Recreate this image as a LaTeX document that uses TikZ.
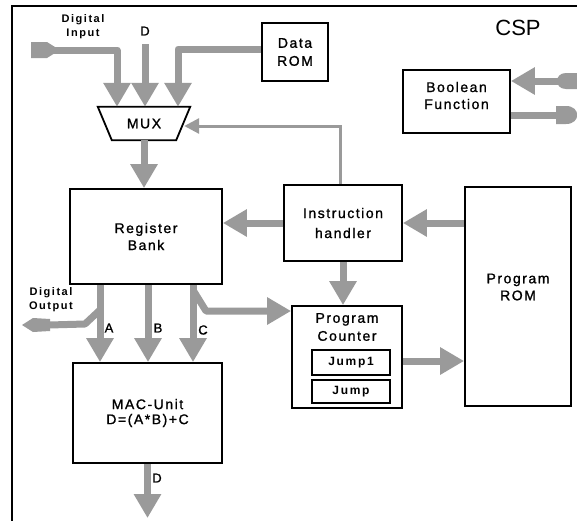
\documentclass[tikz,border=0pt]{standalone}
\usepackage{fontspec}
\setmainfont{Liberation Sans}
\newfontfamily\spaced[LetterSpace=11,FakeBold=1.2]{Liberation Sans}
\newfontfamily\spacedb[LetterSpace=14]{Liberation Sans}
\newfontfamily\heavy[FakeBold=1.2]{Liberation Sans}
\usetikzlibrary{arrows.meta}
\definecolor{ag}{HTML}{9A9A9A}
\begin{document}
\begin{tikzpicture}[x=1pt,y=-1pt,
  box/.style={draw=black,line width=1.8pt,fill=white,inner sep=0pt},
  txt/.style={align=center,inner sep=0pt,font=\spaced\fontsize{14}{17}\selectfont},
  jtxt/.style={draw=black,line width=1.8pt,fill=white,inner sep=0pt,font=\spacedb\bfseries\fontsize{12}{13}\selectfont},
  big/.style={draw=ag,line width=7pt,line join=round,-{Triangle[width=26pt,length=24pt]}},
  thinarr/.style={draw=ag,line width=3pt,-{Triangle[width=15pt,length=15pt]}},
  gl/.style={draw=ag,line width=7pt,line join=round},
  lbl/.style={font=\heavy\fontsize{13}{14}\selectfont,inner sep=0pt},
  small/.style={font=\spacedb\bfseries\fontsize{11}{14}\selectfont,align=center,inner sep=0pt}
]
\useasboundingbox (0,0) rectangle (577,520);
\clip (0,0) rectangle (577,520);
% frame
\draw[line width=2.5pt] (12,540) -- (12,6) -- (600,6);

% boxes
\node[box,minimum width=66pt,minimum height=58pt,txt,font=\spaced\fontsize{14}{18}\selectfont] (drom) at (295,52) {Data\\ROM};
\node[minimum width=92pt,minimum height=33pt,inner sep=0pt] (mux) at (144,123.5) {};
\draw[line width=1.8pt,fill=white] (mux.north west) -- (mux.north east) -- ([xshift=-14pt]mux.south east) -- ([xshift=14pt]mux.south west) -- cycle;
\node[txt] at (mux.center) {MUX};
\node[box,minimum width=152pt,minimum height=95pt,txt] (rb) at (146,236.5) {Register\\Bank};
\node[box,minimum width=118pt,minimum height=76pt,txt,font=\spaced\fontsize{14}{20}\selectfont] (ih) at (343,223) {Instruction\\handler};
\node[box,minimum width=106pt,minimum height=219pt] (prom) at (518,296.5) {};
\node[txt] at (518,287) {Program\\ROM};
\node[box,minimum width=110pt,minimum height=102pt] (pc) at (347,357) {};
\node[txt,font=\spaced\fontsize{14}{18}\selectfont] at (347,327) {Program\\Counter};
\node[jtxt,minimum width=78pt,minimum height=25pt] (j1) at (351,362.5) {Jump1};
\node[jtxt,minimum width=78pt,minimum height=23pt] (j0) at (351,391.5) {Jump};
\node[box,minimum width=149pt,minimum height=100pt,txt,font=\spaced\fontsize{14}{15}\selectfont] (mac) at (147.5,413) {MAC-Unit\\D=(A*B)+C};
\node[box,minimum width=107pt,minimum height=63pt] (bf) at (456.5,101.5) {};
\node[txt] at (456.5,95.5) {Boolean\\Function};

% connector shapes
\fill[ag] (31,42) -- (47,42) -- (55,47) -- (55,53) -- (47,58) -- (31,58) -- cycle;
\coordinate (din) at (54,50);
\fill[ag] (22,325) -- (33,318) -- (50,319) -- (50,331) -- (33,332) -- cycle;
\coordinate (dout) at (49,325);
\fill[ag] (585,73) -- (566,73) .. controls (554,73) and (554,89) .. (566,89) -- (585,89) -- cycle;
\coordinate (bin) at (560,81);
\fill[ag] (556,106) -- (566,106) .. controls (581,106) and (581,124) .. (566,124) -- (556,124) -- cycle;
\coordinate (bout) at (558,115);
\coordinate (dtop) at (145,44);
\coordinate (aout) at (100,310);
\coordinate (cbr) at (193,290);
\coordinate (macout) at (147.5,518);

% arrows into MUX
\draw[big] (din) -| ([xshift=-27pt]mux.north);
\draw[big] (dtop) -- (dtop |- mux.north);
\draw[big] ([yshift=3pt]drom.west) -| ([xshift=34pt]mux.north);
\draw[thinarr] ([xshift=-3pt]ih.north) |- ([xshift=-6pt,yshift=-2.5pt]mux.east);
\draw[big] (mux.south) -- (mux.south |- rb.north);

% other arrows
\draw[big] (ih.west) -- (ih.west -| rb.east);
\draw[big] (ih.east -| prom.west) -- (ih.east);
\draw[big] (ih.south) -- (ih.south |- pc.north);
\draw[big] ([yshift=-4pt]pc.east) -- ([yshift=-4pt]pc.east -| prom.west);

% register outputs
\draw[big] ([xshift=-46pt]rb.south) -- ([xshift=-46pt]rb.south |- mac.north);
\draw[big] ([xshift=2pt]rb.south) -- ([xshift=2pt]rb.south |- mac.north);
\draw[big] ([xshift=47pt]rb.south) -- ([xshift=47pt]rb.south |- mac.north);
\draw[gl] (aout) -- (85,324) -- (dout);
\draw[big] (cbr) -- (206,311) -- (pc.west |- 0,311);
\draw[big] (mac.south) -- (macout);

% boolean function
\draw[big] (bin) -- (bin -| bf.east);
\draw[gl] (bout -| bf.east) -- (bout);

% labels
\node[small] at (83,27) {Digital\\Input};
\node[lbl] at (145,31) {D};
\node[small] at (51,300) {Digital\\Output};
\node[lbl] at (109,328) {A};
\node[lbl] at (158,328) {B};
\node[lbl] at (203,330) {C};
\node[lbl] at (157,478) {D};
\node[font=\fontsize{22}{24}\selectfont,inner sep=0pt] at (518,28) {CSP};
\end{tikzpicture}
\end{document}
